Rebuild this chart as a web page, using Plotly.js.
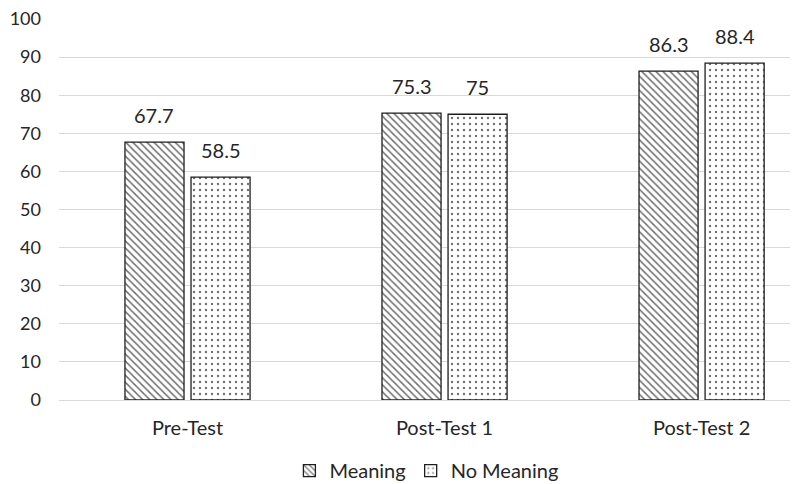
<!DOCTYPE html>
<html><head><meta charset="utf-8">
<script src="https://cdn.plot.ly/plotly-3.0.1.min.js"></script>
<style>html,body{margin:0;padding:0;background:#fff}</style>
</head><body>
<div id="chart" style="width:803px;height:484px"></div>
<script>
const categories = ["Pre-Test", "Post-Test 1", "Post-Test 2"];
const meaning = [67.7, 75.3, 86.3];
const noMeaning = [58.5, 75, 88.4];
const seriesNames = ["Meaning", "No Meaning"];

const fontFam = "Lato, 'Open Sans', sans-serif";
const textColor = "#262626";
const bargap = 0.486;
const bargroupgap = 0.106;
const slotHalf = (1 - bargap) / 4; // centre offset of each bar within its group, in category units

const traces = [
  {
    type: "bar", x: categories, y: meaning, name: seriesNames[0], hoverinfo: "none",
    marker: {color: "#ffffff", line: {color: "#1f1f1f", width: 1.3},
      pattern: {shape: "\\", fgcolor: "#707070", bgcolor: "#ffffff", size: 5, solidity: 0.3}}
  },
  {
    type: "bar", x: categories, y: noMeaning, name: seriesNames[1], hoverinfo: "none",
    marker: {color: "#ffffff", line: {color: "#1f1f1f", width: 1.3},
      pattern: {shape: ".", fgcolor: "#707070", bgcolor: "#ffffff", size: 6, solidity: 0.12}}
  }
];

const annotations = [];
[meaning, noMeaning].forEach((vals, s) => {
  vals.forEach((v, i) => {
    annotations.push({
      xref: "x", yref: "y", x: i + (s === 0 ? -slotHalf : slotHalf), y: v,
      text: String(v), showarrow: false, yanchor: "bottom", xanchor: "center", yshift: 13,
      font: {family: fontFam, size: 20, color: textColor}
    });
  });
});

const layout = {
  width: 803, height: 484,
  margin: {l: 59, r: 13, t: 19, b: 84},
  barmode: "group",
  bargap: bargap,
  bargroupgap: bargroupgap,
  showlegend: true,
  legend: {orientation: "h", x: 0.531, xanchor: "center", xref: "container",
    y: 0.068, yanchor: "top", yref: "container",
    font: {family: fontFam, size: 20, color: textColor}, itemwidth: 30, traceorder: "normal"},
  xaxis: {type: "category", range: [-0.5, 2.344], tickfont: {family: fontFam, size: 20, color: textColor},
    showline: false, ticks: "", ticklabelstandoff: 14, fixedrange: true},
  yaxis: {range: [0, 100], dtick: 10, tickfont: {family: fontFam, size: 18, color: textColor},
    gridcolor: "#d9d9d9", gridwidth: 1, zeroline: true, zerolinecolor: "#d9d9d9", zerolinewidth: 1,
    ticks: "", showline: false, ticklabelstandoff: 17},
  annotations: annotations,
  paper_bgcolor: "#ffffff", plot_bgcolor: "#ffffff",
  font: {family: fontFam}
};
Plotly.newPlot("chart", traces, layout, {displayModeBar: false, staticPlot: true});
</script>
</body></html>
